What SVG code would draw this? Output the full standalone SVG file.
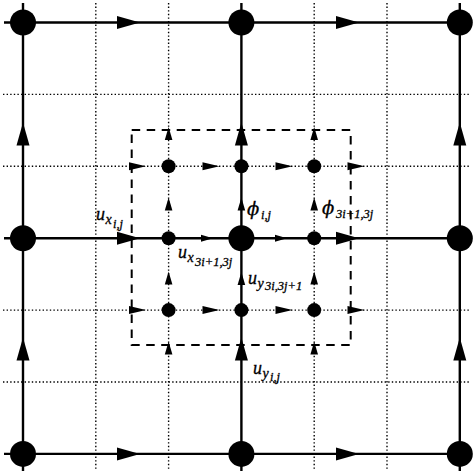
<svg xmlns="http://www.w3.org/2000/svg" width="473" height="471" viewBox="0 0 473 471">
<style>
.dot{stroke:#000;stroke-width:1.4;stroke-dasharray:1.4 2.2;fill:none}
.solid{stroke:#000;stroke-width:2.4;fill:none}
.dash{stroke:#000;stroke-width:2;stroke-dasharray:8.5 6.5;fill:none}
.node{fill:#000}
.arrow{fill:#000}
text{font-family:"Liberation Serif","DejaVu Serif",serif;font-style:italic;fill:#000;stroke:#000;stroke-width:0.3}
.m{font-size:18px}
.p{font-size:18px;font-family:"DejaVu Serif",serif}
.s1{font-size:14px}
.s2{font-size:12.5px}
</style>
<defs>
<path id="aB" d="M0,0 L-23,-6.5 L-23,6.5 Z"/>
<path id="aS" d="M0,0 L-17,-4 L-17,4 Z"/>
<path id="aM" d="M0,0 L-12,-3.5 L-12,3.5 Z"/>
<path id="aV" d="M0,0 L-13,-3.8 L-13,3.8 Z"/>
</defs>
<rect width="473" height="471" fill="#fff"/>
<g id="grid">
<path class="dot" d="M95.8,3 V470 M168.6,3 V470 M314.2,3 V470 M387,3 V470 M3,94.4 H470 M3,166.3 H470 M3,310.1 H470 M3,382 H470"/>
</g>
<g id="refinement-box">
<path class="dash" d="M131.7,130 H350.7 V345 H131.7 Z"/>
</g>
<g id="connectors">
<path class="solid" d="M4,22.5 H469 M4,238.2 H469 M4,453.9 H469 M23,3 V471 M241.4,3 V471 M459.8,3 V471"/>
<g class="arrow">
<use href="#aB" transform="translate(140,22.5)"/>
<use href="#aB" transform="translate(359,22.5)"/>
<use href="#aB" transform="translate(140,238.2)"/>
<use href="#aB" transform="translate(359,238.2)"/>
<use href="#aB" transform="translate(140,453.9)"/>
<use href="#aB" transform="translate(359,453.9)"/>
<use href="#aB" transform="translate(23,122.5) rotate(-90)"/>
<use href="#aB" transform="translate(241.4,122.5) rotate(-90)"/>
<use href="#aB" transform="translate(459.8,122.5) rotate(-90)"/>
<use href="#aB" transform="translate(23,337.5) rotate(-90)"/>
<use href="#aB" transform="translate(241.4,337.5) rotate(-90)"/>
<use href="#aB" transform="translate(459.8,337.5) rotate(-90)"/>
<use href="#aS" transform="translate(146,166.3)"/>
<use href="#aS" transform="translate(219.5,166.3)"/>
<use href="#aS" transform="translate(292.5,166.3)"/>
<use href="#aS" transform="translate(364.5,166.3)"/>
<use href="#aS" transform="translate(146,310.1)"/>
<use href="#aS" transform="translate(219.5,310.1)"/>
<use href="#aS" transform="translate(292.5,310.1)"/>
<use href="#aS" transform="translate(364.5,310.1)"/>
<use href="#aM" transform="translate(213,238.2)"/>
<use href="#aM" transform="translate(287,238.2)"/>
<use href="#aV" transform="translate(168.6,127) rotate(-90)"/>
<use href="#aV" transform="translate(168.6,197.5) rotate(-90)"/>
<use href="#aV" transform="translate(168.6,271.5) rotate(-90)"/>
<use href="#aV" transform="translate(168.6,341.5) rotate(-90)"/>
<use href="#aV" transform="translate(314.2,127) rotate(-90)"/>
<use href="#aV" transform="translate(314.2,197.5) rotate(-90)"/>
<use href="#aV" transform="translate(314.2,271.5) rotate(-90)"/>
<use href="#aV" transform="translate(314.2,341.5) rotate(-90)"/>
<use href="#aV" transform="translate(241.4,197.5) rotate(-90)"/>
<use href="#aV" transform="translate(241.4,272) rotate(-90)"/>
</g>
</g>
<g id="n-0-0"><circle class="node" cx="23" cy="22.5" r="13"/></g>
<g id="n-1-0"><circle class="node" cx="241.4" cy="22.5" r="13"/></g>
<g id="n-2-0"><circle class="node" cx="459.8" cy="22.5" r="13"/></g>
<g id="n-0-1"><circle class="node" cx="23" cy="238.2" r="13"/></g>
<g id="n-1-1"><circle class="node" cx="241.4" cy="238.2" r="13"/></g>
<g id="n-2-1"><circle class="node" cx="459.8" cy="238.2" r="13"/></g>
<g id="n-0-2"><circle class="node" cx="23" cy="453.9" r="13"/></g>
<g id="n-1-2"><circle class="node" cx="241.4" cy="453.9" r="13"/></g>
<g id="n-2-2"><circle class="node" cx="459.8" cy="453.9" r="13"/></g>
<g id="f-2-2"><circle class="node" cx="168.6" cy="166.3" r="7"/></g>
<g id="f-3-2"><circle class="node" cx="241.4" cy="166.3" r="7"/></g>
<g id="f-4-2"><circle class="node" cx="314.2" cy="166.3" r="7"/></g>
<g id="f-2-3"><circle class="node" cx="168.6" cy="238.2" r="7"/></g>
<g id="f-4-3"><circle class="node" cx="314.2" cy="238.2" r="7"/></g>
<g id="f-2-4"><circle class="node" cx="168.6" cy="310.1" r="7"/></g>
<g id="f-3-4"><circle class="node" cx="241.4" cy="310.1" r="7"/></g>
<g id="f-4-4"><circle class="node" cx="314.2" cy="310.1" r="7"/></g>
<g id="labels">
<text><tspan class="m" x="96" y="220">u</tspan><tspan class="s1" x="105.5" y="223.5">x</tspan><tspan class="s2" x="113" y="227.5">i,j</tspan></text>
<text><tspan class="m" x="178" y="258">u</tspan><tspan class="s1" x="187.5" y="262">x</tspan><tspan class="s2" x="195" y="265.5">3i+1,3j</tspan></text>
<text><tspan class="p" x="247" y="214.5">ϕ</tspan><tspan class="s2" x="261" y="219">i,j</tspan></text>
<text><tspan class="p" x="322" y="213.5">ϕ</tspan><tspan class="s2" x="336" y="217.5">3i+1,3j</tspan></text>
<text><tspan class="m" x="248" y="283.5">u</tspan><tspan class="s1" x="257.5" y="287.5">y</tspan><tspan class="s2" x="265" y="290">3i,3j+1</tspan></text>
<text><tspan class="m" x="253" y="374">u</tspan><tspan class="s1" x="262.5" y="377.5">y</tspan><tspan class="s2" x="270" y="380.5">i,j</tspan></text>
</g>
</svg>
